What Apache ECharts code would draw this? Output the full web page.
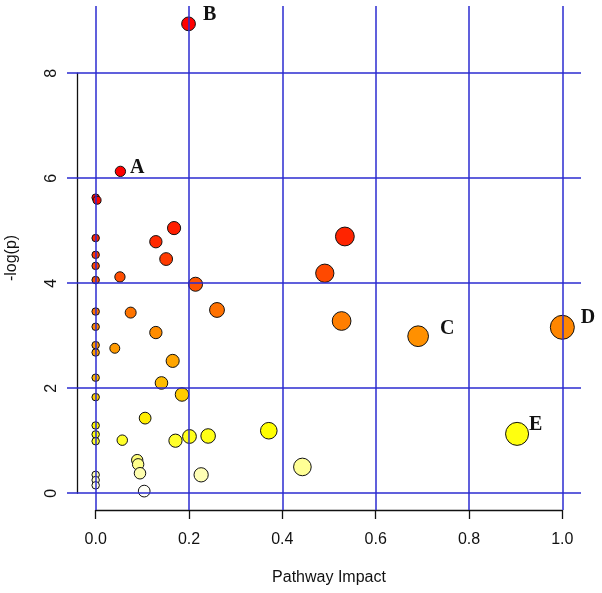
<!DOCTYPE html>
<html>
<head>
<meta charset="utf-8">
<script src="https://cdn.jsdelivr.net/npm/echarts@6/dist/echarts.min.js"></script>
<style>
html,body{margin:0;padding:0;background:#fff;}
#chart{width:602px;height:593px;}
</style>
</head>
<body>
<div id="chart"></div>
<script>
// ---- data ----
const impact = [0.199, 0.053, 0.000, 0.003, 0, 0, 0, 0, 0, 0, 0, 0, 0, 0, 0, 0, 0, 0, 0, 0,
  0.168, 0.129, 0.151, 0.052, 0.214, 0.260, 0.075, 0.129, 0.041, 0.165, 0.141, 0.185,
  0.106, 0.057, 0.171, 0.201, 0.241, 0.371, 0.089, 0.091, 0.095, 0.226, 0.104, 0.443,
  0.534, 0.491, 0.527, 0.691, 1.000, 0.903];
const logP = [8.94, 6.13, 5.63, 5.58, 4.86, 4.54, 4.33, 4.06, 3.46, 3.17, 2.82, 2.68, 2.20, 1.83, 1.29, 1.12, 0.99, 0.35, 0.25, 0.15,
  5.05, 4.79, 4.46, 4.12, 3.98, 3.49, 3.44, 3.06, 2.76, 2.52, 2.10, 1.88,
  1.43, 1.01, 1.00, 1.08, 1.09, 1.19, 0.63, 0.55, 0.38, 0.35, 0.04, 0.50,
  4.89, 4.19, 3.28, 2.99, 3.16, 1.13];
const pointLabels = ['B', 'A', '', '', '', '', '', '', '', '', '', '', '', '', '', '', '', '', '', '',
  '', '', '', '', '', '', '', '', '', '', '', '',
  '', '', '', '', '', '', '', '', '', '', '', '',
  '', '', '', 'C', 'D', 'E'];
const xTicks = [0, 0.2, 0.4, 0.6, 0.8, 1.0];
const yTicks = [0, 2, 4, 6, 8];
const xTitle = 'Pathway Impact';
const yTitle = '-log(p)';

// ---- layout ----
const W = 602, H = 593;
const plot = {l: 77, r: 581, t: 6, b: 510};
const xr = [-0.04, 1.04], yr = [-0.32, 9.28];
const px = v => plot.l + (v - xr[0]) / (xr[1] - xr[0]) * (plot.r - plot.l);
const py = v => plot.b - (v - yr[0]) / (yr[1] - yr[0]) * (plot.b - plot.t);
const gridBlue = '#2b2bd0';
const labelOffsets = {A: [-1, -4], B: [2, -9], C: [6, -7], D: [1, -9], E: [-5, -9]};
const sans = 'Liberation Sans';

const data = impact.map((x, i) => ({name: pointLabels[i], value: [x, logP[i]]}));

const chart = echarts.init(document.getElementById('chart'), null, {renderer: 'canvas'});
chart.setOption({
  animation: false,
  backgroundColor: '#ffffff',
  grid: [
    {left: px(xTicks[0]), right: W - px(xTicks[xTicks.length - 1]), top: py(yTicks[yTicks.length - 1]), bottom: H - py(yTicks[0]),
      containLabel: false, outerBoundsMode: 'none'},
    {left: plot.l, right: W - plot.r, top: plot.t, bottom: H - plot.b, containLabel: false, outerBoundsMode: 'none'}
  ],
  xAxis: [
    {gridIndex: 0, type: 'value', min: xTicks[0], max: xTicks[xTicks.length - 1], interval: 0.2,
      offset: plot.b - py(0),
      axisLine: {show: true, onZero: false, lineStyle: {color: '#111', width: 1.3}},
      axisTick: {show: true, inside: false, length: 9, lineStyle: {color: '#111', width: 1.3}},
      axisLabel: {formatter: v => v.toFixed(1), fontFamily: sans, fontSize: 16, color: '#111', margin: 22},
      splitLine: {show: false},
      name: xTitle, nameLocation: 'middle', nameGap: 60,
      nameTextStyle: {fontFamily: sans, fontSize: 16, color: '#111'}},
    {gridIndex: 1, type: 'value', min: xr[0], max: xr[1], show: false, splitLine: {show: false}}
  ],
  yAxis: [
    {gridIndex: 0, type: 'value', min: yTicks[0], max: yTicks[yTicks.length - 1], interval: 2,
      offset: px(0) - plot.l,
      axisLine: {show: true, onZero: false, lineStyle: {color: '#111', width: 1.3}},
      axisTick: {show: true, inside: false, length: 10, lineStyle: {color: gridBlue, width: 1.5}},
      axisLabel: {rotate: 90, fontFamily: sans, fontSize: 16, color: '#111', margin: 17.5},
      splitLine: {show: false}},
    {gridIndex: 1, type: 'value', min: yr[0], max: yr[1], show: true,
      axisLine: {show: false}, axisTick: {show: false}, axisLabel: {show: false}, splitLine: {show: false},
      name: yTitle, nameLocation: 'middle', nameGap: 57, nameRotate: 90,
      nameTextStyle: {fontFamily: sans, fontSize: 16, color: '#111'}}
  ],
  visualMap: {
    show: false, type: 'continuous', seriesIndex: 0, dimension: 1, min: 0, max: 6,
    inRange: {color: ['#ffffff', '#ffff80', '#ffff00', '#ffd000', '#ffaa00', '#ff9000', '#ff6a00', '#ff4800', '#ff2800', '#ff1000', '#ff0000']}
  },
  series: [{
    type: 'scatter', xAxisIndex: 1, yAxisIndex: 1,
    data: data,
    symbolSize: v => 7.5 + 16.5 * Math.pow(v[0], 0.6),
    itemStyle: {borderColor: '#111', borderWidth: 1, opacity: 1},
    label: {
      show: true, position: 'right',
      formatter: p => p.name,
      fontFamily: 'Liberation Serif', fontWeight: 'bold', fontSize: 20, color: '#111'
    },
    labelLayout: p => {
      const o = labelOffsets[data[p.dataIndex].name];
      if (!o) return {};
      return {dx: o[0], dy: o[1]};
    },
    markLine: {
      silent: true, symbol: 'none', animation: false,
      label: {show: false},
      lineStyle: {color: gridBlue, width: 1.5, type: 'solid'},
      data: xTicks.map(v => ({xAxis: v})).concat(yTicks.map(v => ({yAxis: v})))
    },
    z: 3
  }]
});
</script>
</body>
</html>
